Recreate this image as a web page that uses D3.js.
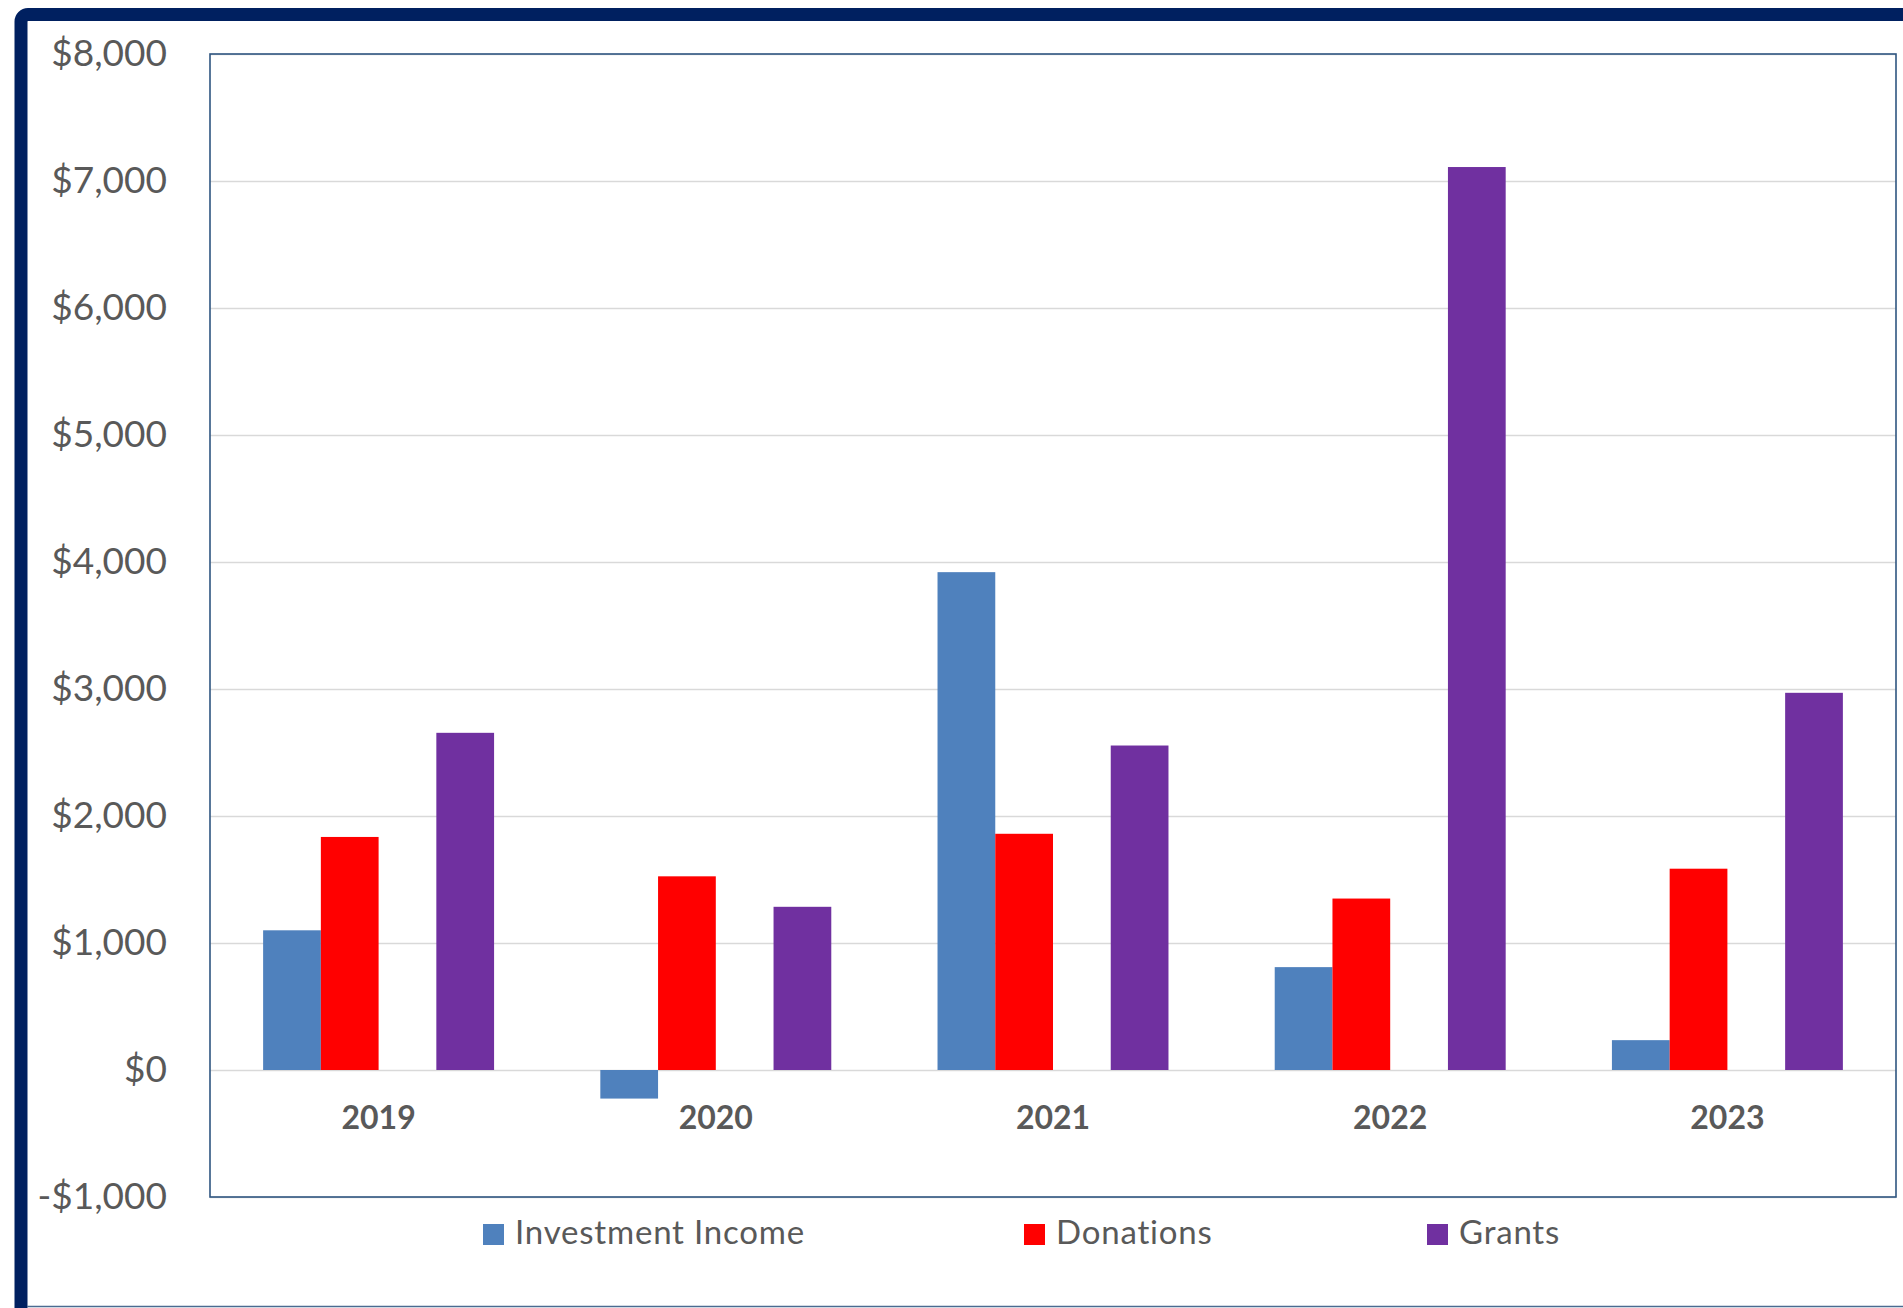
<!DOCTYPE html>
<html>
<head>
<meta charset="utf-8">
<script src="https://cdn.jsdelivr.net/npm/d3@7"></script>
<style>
  body { margin: 0; background: #fff; }
  svg { display: block; }
</style>
</head>
<body>
<svg id="chart" width="1903" height="1308"></svg>
<script>
'use strict';

// data
var years            = ["2019", "2020", "2021", "2022", "2023"];
var investmentIncome = [1100, -225, 3920, 810, 235];
var donations        = [1835, 1525, 1860, 1350, 1585];
var grants           = [2655, 1285, 2555, 7110, 2970];
var seriesNames      = ["Investment Income", "Donations", "Grants"];
var yTicks           = [-1000, 0, 1000, 2000, 3000, 4000, 5000, 6000, 7000, 8000];

var colors = {
  "Investment Income": "#4f81bd",
  "Donations":         "#ff0000",
  "Grants":            "#7030a0"
};

var W = 1903, H = 1308;
var plot = { left: 210, top: 54, right: 1896, bottom: 1197 };
var textColor = "#595959";
var font = "Lato, 'Open Sans', sans-serif";

var svg = d3.select("#chart");

// outer frame (navy, cut off at right and bottom)
svg.append("rect")
  .attr("x", 21).attr("y", 14.5)
  .attr("width", W + 40).attr("height", H + 40)
  .attr("rx", 7)
  .style("fill", "none")
  .style("stroke", "#002060")
  .style("stroke-width", 13);
svg.append("line")
  .attr("x1", 27).attr("x2", W)
  .attr("y1", H - 1.5).attr("y2", H - 1.5)
  .style("stroke", "#4a6a90")
  .style("stroke-width", 1.5);

var y = d3.scaleLinear()
  .domain([-1000, 8000])
  .range([plot.bottom, plot.top]);

var x0 = d3.scaleBand()
  .domain(years)
  .range([plot.left, plot.right])
  .padding(0);

// four slots per year, the third one is empty in the original
var x1 = d3.scaleBand()
  .domain(["Investment Income", "Donations", "_empty", "Grants"])
  .range([0, x0.bandwidth()])
  .paddingInner(0)
  .paddingOuter(0.92);

// gridlines
svg.append("g")
  .attr("transform", "translate(" + plot.left + ",0)")
  .call(d3.axisLeft(y).tickValues(yTicks).tickSize(-(plot.right - plot.left)).tickFormat(""))
  .call(function(g) { g.select(".domain").remove(); })
  .selectAll("line")
  .style("stroke", "#d9d9d9")
  .style("stroke-width", 1.6);

// y labels
var money = d3.format(",");
svg.append("g")
  .attr("transform", "translate(" + plot.left + ",0)")
  .call(d3.axisLeft(y).tickValues(yTicks).tickSize(0).tickPadding(43)
    .tickFormat(function(v) { return (v < 0 ? "-$" : "$") + money(Math.abs(v)); }))
  .call(function(g) { g.select(".domain").remove(); })
  .selectAll("text")
  .attr("dy", "0.30em")
  .style("font-family", font)
  .style("font-size", "37px")
  .style("fill", textColor);

// bars
var rows = years.map(function(yr, i) {
  return { year: yr, values: [
    { key: "Investment Income", value: investmentIncome[i] },
    { key: "Donations",         value: donations[i] },
    { key: "Grants",            value: grants[i] }
  ]};
});

svg.append("g")
  .selectAll("g")
  .data(rows)
  .join("g")
  .attr("transform", function(d) { return "translate(" + x0(d.year) + ",0)"; })
  .selectAll("rect")
  .data(function(d) { return d.values; })
  .join("rect")
  .attr("x", function(d) { return x1(d.key); })
  .attr("width", x1.bandwidth())
  .attr("y", function(d) { return y(Math.max(0, d.value)); })
  .attr("height", function(d) { return Math.abs(y(d.value) - y(0)); })
  .style("fill", function(d) { return colors[d.key]; });

// category labels
svg.append("g")
  .selectAll("text")
  .data(years)
  .join("text")
  .attr("x", function(d) { return x0(d) + x0.bandwidth() / 2; })
  .attr("y", 1129)
  .style("text-anchor", "middle")
  .style("font-family", font)
  .style("font-weight", "bold")
  .style("font-size", "32px")
  .style("fill", textColor)
  .text(function(d) { return d; });

// plot border
svg.append("rect")
  .attr("x", plot.left).attr("y", plot.top)
  .attr("width", plot.right - plot.left)
  .attr("height", plot.bottom - plot.top)
  .style("fill", "none")
  .style("stroke", "#2f5580")
  .style("stroke-width", 1.6);

// legend
var legendX = [483, 1024, 1427];
var legend = svg.append("g")
  .selectAll("g")
  .data(seriesNames)
  .join("g")
  .attr("transform", function(d, i) { return "translate(" + legendX[i] + ",1224)"; });

legend.append("rect")
  .attr("width", 21).attr("height", 21)
  .style("fill", function(d) { return colors[d]; });

legend.append("text")
  .attr("x", 32)
  .attr("y", 19.5)
  .style("font-family", font)
  .style("font-size", "33px")
  .style("letter-spacing", "0.8px")
  .style("fill", textColor)
  .text(function(d) { return d; });
</script>
</body>
</html>
